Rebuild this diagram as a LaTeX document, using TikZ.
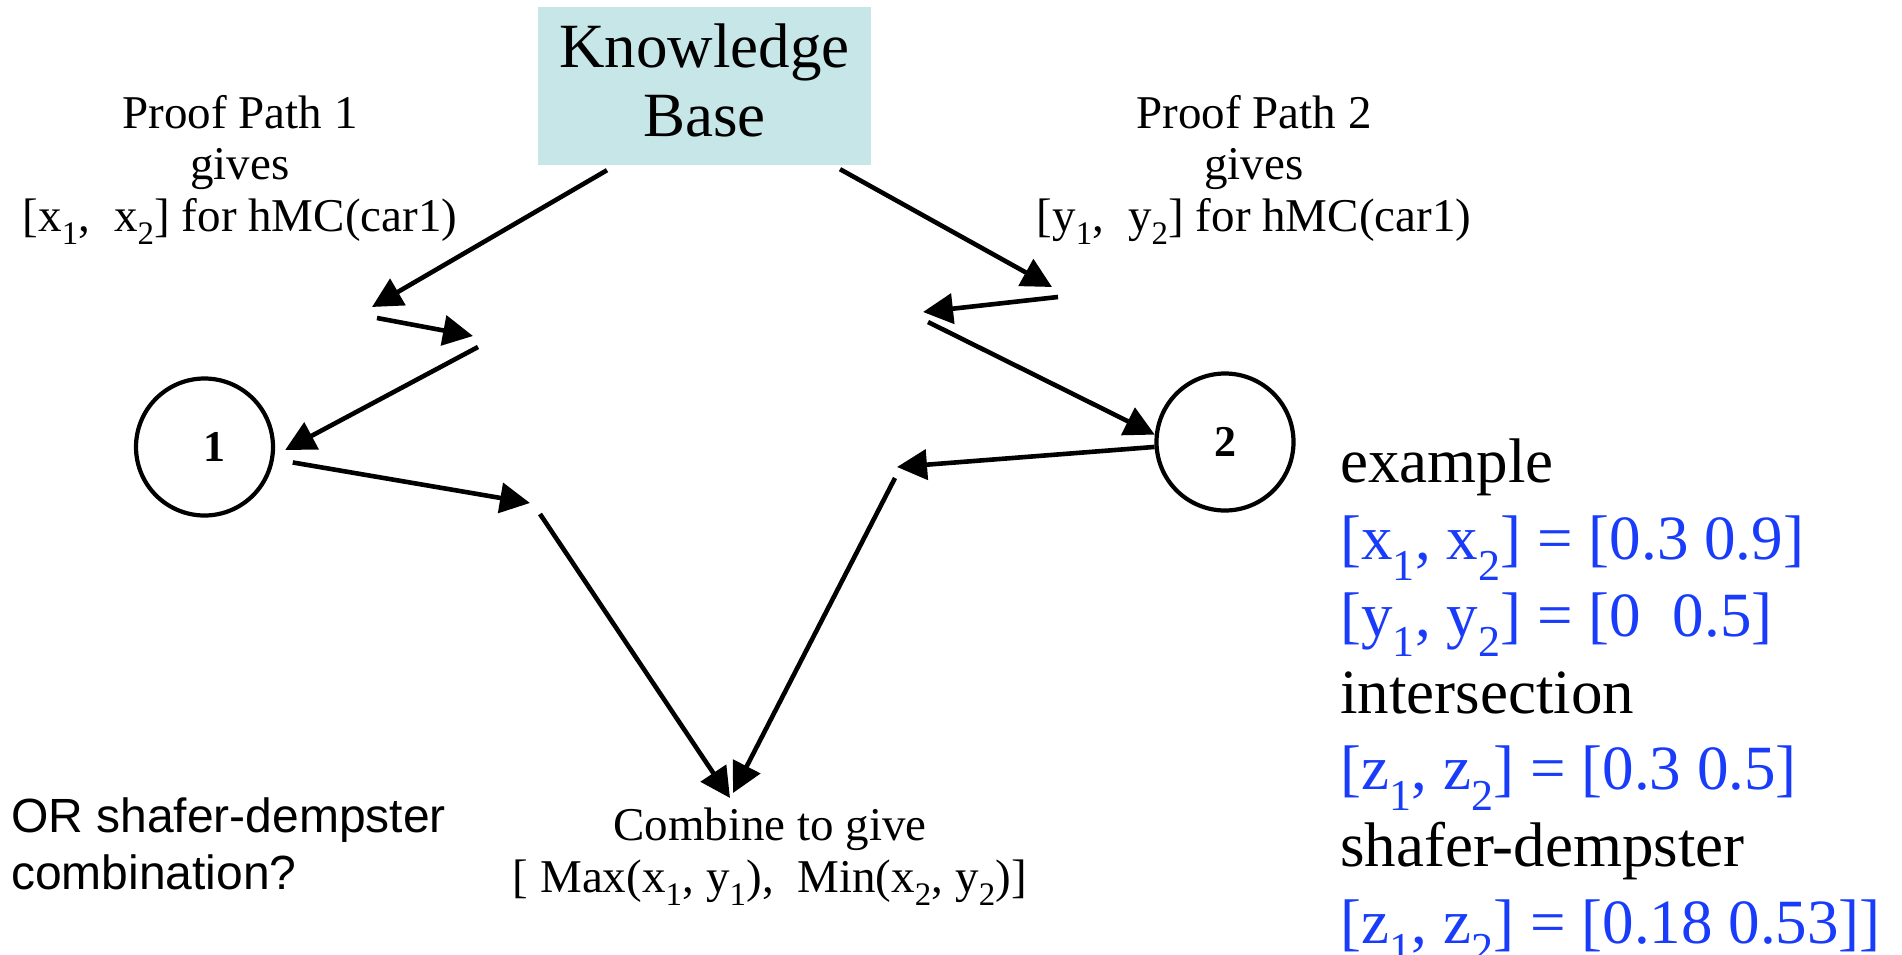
\documentclass[tikz,border=0pt]{standalone}
\usepackage{fontspec}
\setmainfont{Liberation Serif}
\newfontfamily\arialfont{Liberation Sans}
\usepackage{tikz}
\usetikzlibrary{arrows.meta}
\definecolor{kbcyan}{RGB}{198,230,232}
\definecolor{exblue}{RGB}{25,60,250}

\begin{document}
\begin{tikzpicture}[x=1pt, y=-1pt,
    arrow/.style={line width=4.6pt, -{Triangle[length=30pt,width=30pt]}},
    numcircle/.style={draw, circle, line width=4.2pt, minimum size=137pt, inner sep=0pt,
      font=\fontsize{44}{44}\selectfont\bfseries},
    label/.style={inner sep=0pt, align=center, font=\fontsize{47}{51.5}\selectfont}]
    \useasboundingbox (0,0) rectangle (1902,955);

    \node[fill=kbcyan, minimum width=333pt, minimum height=158pt, inner sep=0pt] (KB) at (704.5,86) {};
    \node[inner sep=0pt, align=center, font=\fontsize{63}{69}\selectfont] (KBText)
      at ([yshift=6pt]KB.center) {Knowledge\\Base};

    \node[label, anchor=north] (PathOne) at (240,95)
      {Proof Path 1\\gives\\{}[x\textsubscript{1},~ x\textsubscript{2}] for hMC(car1)};
    \node[label, anchor=north] (PathTwo) at (1254,95)
      {Proof Path 2\\gives\\{}[y\textsubscript{1},~ y\textsubscript{2}] for hMC(car1)};

    \node[numcircle] (C1) at (204.5,447) {\hspace*{20pt}1};
    \node[numcircle] (C2) at (1225,442) {2};

    \node[label, anchor=north] (Combine) at (770,808)
      {Combine to give\\{}[ Max(x\textsubscript{1}, y\textsubscript{1}),~ Min(x\textsubscript{2}, y\textsubscript{2})]};

    \node[anchor=north west, inner sep=0pt, align=left,
      font=\arialfont\fontsize{48}{57}\selectfont] (OrNote) at (11,798)
      {OR shafer-dempster\\combination?};

    \node[anchor=north west, inner sep=0pt, align=left,
      font=\fontsize{63}{76.7}\selectfont] (Example) at (1340,439)
      {example\\
       \textcolor{exblue}{[x\textsubscript{1}, x\textsubscript{2}] = [0.3 0.9]}\\
       \textcolor{exblue}{[y\textsubscript{1}, y\textsubscript{2}] = [0~ 0.5]}\\
       intersection\\
       \textcolor{exblue}{[z\textsubscript{1}, z\textsubscript{2}] = [0.3 0.5]}\\
       shafer-dempster\\
       \textcolor{exblue}{[z\textsubscript{1}, z\textsubscript{2}] = [0.18 0.53]]}};

    % turning points of the two proof paths
    \coordinate (KBLeft)  at ([xshift=-97.5pt,yshift=-5pt]KB.south);
    \coordinate (KBRight) at ([xshift=135.5pt,yshift=-4pt]KB.south);
    \coordinate (LeftA)   at (372,307);
    \coordinate (LeftB)   at (377,318);
    \coordinate (LeftC)   at (473,336);
    \coordinate (LeftD)   at (478,347);
    \coordinate (LeftE)   at (530,503);
    \coordinate (LeftF)   at (540,514);
    \coordinate (RightA)  at (1052,287);
    \coordinate (RightB)  at (1058,297);
    \coordinate (RightC)  at (923,312);
    \coordinate (RightD)  at (928,322);
    \coordinate (RightE)  at (897,467);
    \coordinate (RightF)  at (895,478);
    \coordinate (MeetLeft)  at ([xshift=-40pt,yshift=10pt]Combine.north);
    \coordinate (MeetRight) at ([xshift=-37pt,yshift=15pt]Combine.north);

    % path 1
    \draw[arrow] (KBLeft) -- (LeftA);
    \draw[arrow] (LeftB) -- (LeftC);
    \draw[arrow, shorten >=12pt] (LeftD) -- (C1.-7);
    \draw[arrow, shorten <=19pt] (C1.-10) -- (LeftE);
    \draw[arrow] (LeftF) -- (MeetLeft);

    % path 2
    \draw[arrow] (KBRight) -- (RightA);
    \draw[arrow] (RightB) -- (RightC);
    \draw[arrow] (RightD) -- (C2.174);
    \draw[arrow] (C2.184) -- (RightE);
    \draw[arrow] (RightF) -- (MeetRight);
\end{tikzpicture}
\end{document}
